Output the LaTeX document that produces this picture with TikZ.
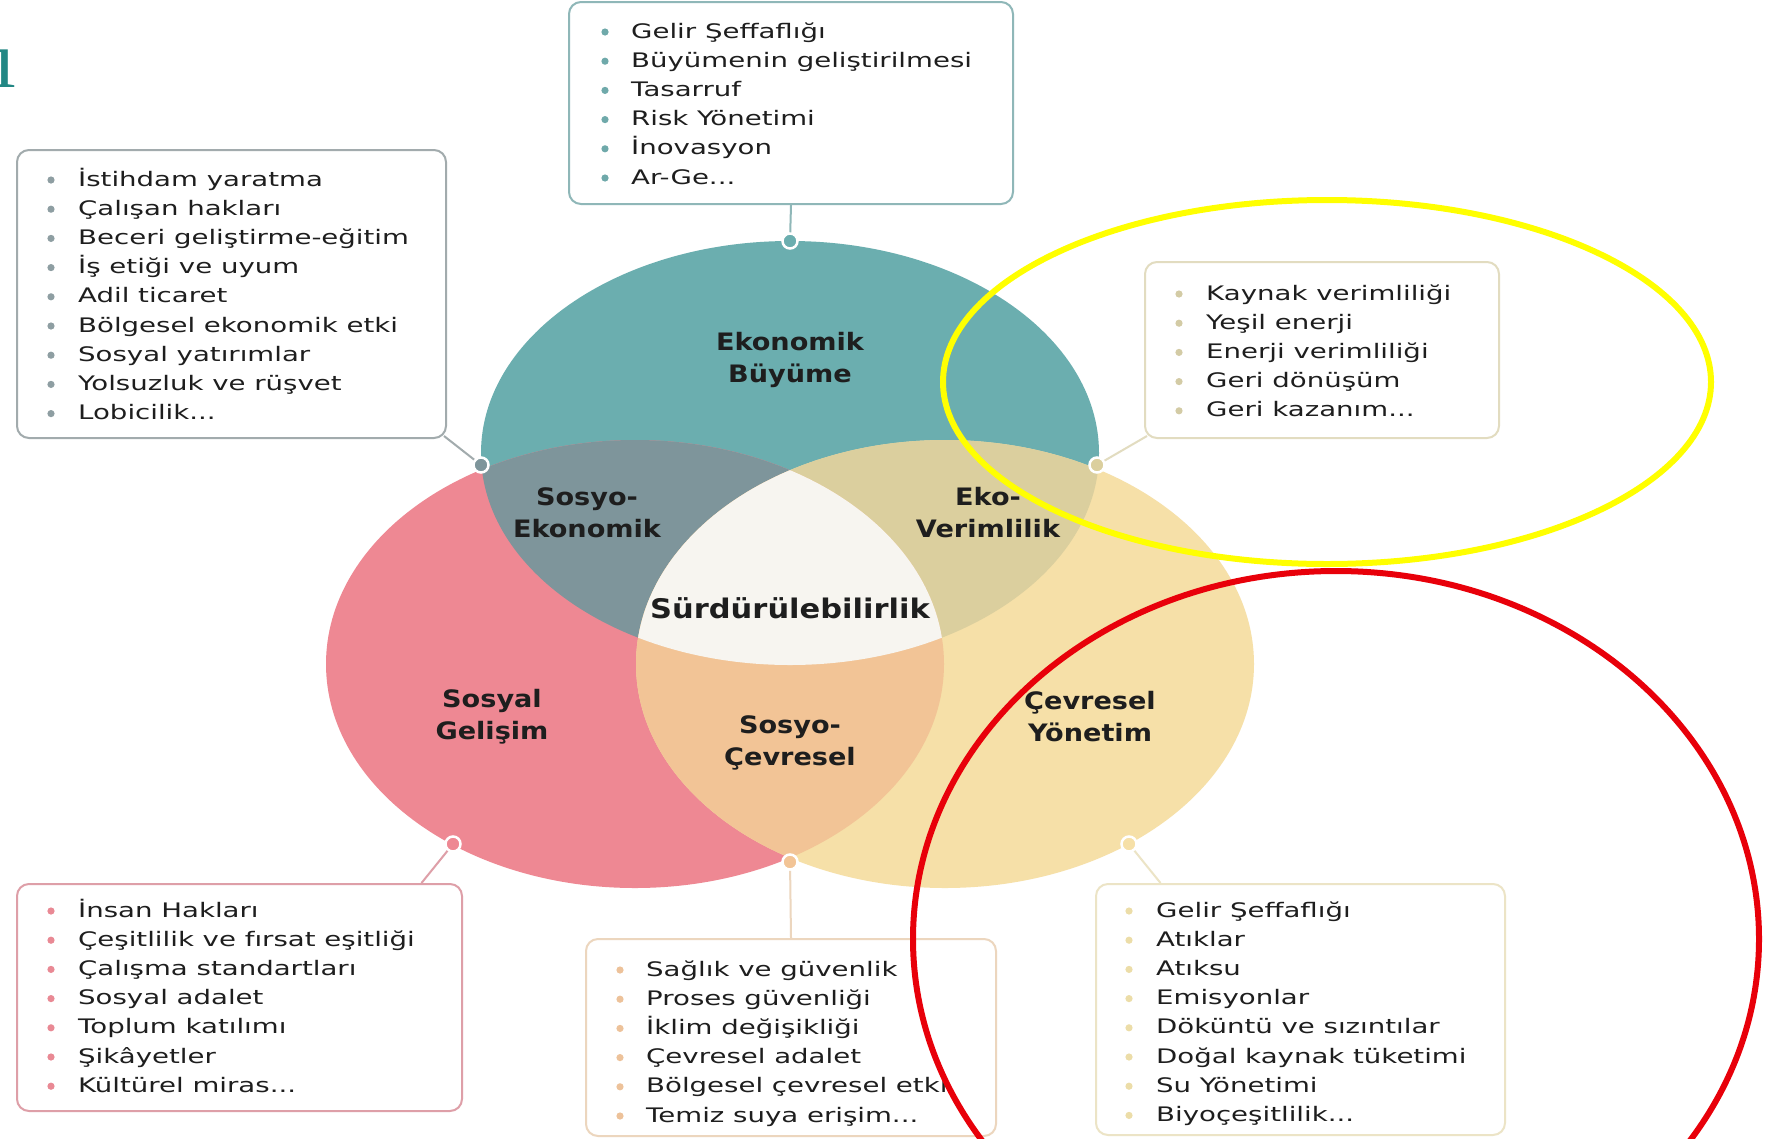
\documentclass[tikz,border=0pt]{standalone}
\usepackage{fontspec}
\setmainfont{DejaVu Sans}[FakeStretch=1.38]
\newfontfamily\labelfont{DejaVu Sans}[FakeStretch=1.13]
\newfontfamily\fragfont{Liberation Serif}

% region colours
\definecolor{ekoC}{HTML}{6BAEAF}
\definecolor{sosC}{HTML}{EE8893}
\definecolor{cevC}{HTML}{F6E0A8}
\definecolor{sosekC}{HTML}{7E959B}
\definecolor{ekverC}{HTML}{DBCF9E}
\definecolor{socevC}{HTML}{F2C496}
\definecolor{midC}{HTML}{F7F5F0}
% box borders and bullets
\definecolor{topB}{HTML}{8FB7B8}\definecolor{topD}{HTML}{6FA9AA}
\definecolor{ltB}{HTML}{A2ABAD}\definecolor{ltD}{HTML}{8E9EA2}
\definecolor{rtB}{HTML}{E2DCC0}\definecolor{rtD}{HTML}{D3CBA5}
\definecolor{blB}{HTML}{DE9FA8}\definecolor{blD}{HTML}{E98994}
\definecolor{bmB}{HTML}{ECD6BE}\definecolor{bmD}{HTML}{EDC29A}
\definecolor{brB}{HTML}{ECE4C6}\definecolor{brD}{HTML}{ECDDA8}
\definecolor{txt}{HTML}{1E1E1E}
\definecolor{fragC}{HTML}{228784}
\definecolor{markY}{HTML}{FFFF00}
\definecolor{markR}{HTML}{E8000A}

\newcommand\tridot{...}

\tikzset{
  listbox/.style={draw=#1, line width=2pt, rounded corners=12pt, fill=white, inner sep=0pt},
  itemtext/.style={anchor=base west, inner sep=0pt, text=txt, font=\fontsize{20}{24}\selectfont},
  conn/.style={draw=#1, line width=2pt},
  joint/.style={circle, fill=#1, draw=white, line width=2.5pt, minimum size=15pt, inner sep=0pt},
  areatext/.style={align=center, text=txt, inner sep=0pt, font=\labelfont\bfseries\fontsize{24}{32}\selectfont},
  marker/.style={draw=#1, line width=6pt}
}

% bullet list: name, bullet x, text x, first line y, bullet colour, items
\newcommand\itemlist[6]{%
  \foreach \t [count=\k] in {#6} {
    \pgfmathsetmacro\yy{#4+(\k-1)*29.2}
    \fill[#5] (#2,\yy+1) circle[radius=3.6];
    \node[itemtext] (#1-\k) at (#3,\yy+7) {\t};
  }%
}

\begin{document}
\begin{tikzpicture}[x=1pt,y=-1pt]
\useasboundingbox (0,0) rectangle (1774,1138);
\clip (0,0) rectangle (1774,1138);
\fill[white] (0,0) rectangle (1774,1138);

% clipped heading letter at the left edge
\node[anchor=base east, inner sep=0pt, text=fragC, font=\fragfont\fontsize{82}{82}\selectfont] (frag) at (16,87) {ı};

% the three areas
\def\ekoE{(790,453) ellipse [x radius=309, y radius=212]}
\def\sosE{(635,664) ellipse [x radius=309, y radius=224]}
\def\cevE{(945,664) ellipse [x radius=309, y radius=224]}
\fill[ekoC] \ekoE;
\fill[sosC] \sosE;
\fill[cevC] \cevE;
\begin{scope}\clip \ekoE; \fill[sosekC] \sosE; \end{scope}
\begin{scope}\clip \ekoE; \fill[ekverC] \cevE; \end{scope}
\begin{scope}\clip \sosE; \fill[socevC] \cevE; \end{scope}
\begin{scope}\clip \ekoE; \clip \sosE; \fill[midC] \cevE; \end{scope}

% area labels
\node[areatext] (lblEko) at (790,360) {Ekonomik\\Büyüme};
\node[areatext] (lblSosEk) at (587,513) {Sosyo-\\Ekonomik};
\node[areatext] (lblEkoVer) at (988,513) {Eko-\\Verimlilik};
\node[areatext, font=\labelfont\bfseries\fontsize{27}{32}\selectfont] (lblMid) at (790,608) {Sürdürülebilirlik};
\node[areatext] (lblSos) at (492,717) {Sosyal\\Gelişim};
\node[areatext] (lblSosCev) at (790,743) {Sosyo-\\Çevresel};
\node[areatext] (lblCev) at (1090,717) {Çevresel\\Yönetim};

% list boxes
\node[listbox=topB, minimum width=444pt, minimum height=202pt] (boxEko) at (791,103) {};
\node[listbox=ltB, minimum width=429pt, minimum height=288pt] (boxSosEk) at (231.5,294) {};
\node[listbox=rtB, minimum width=354pt, minimum height=176pt] (boxEkoVer) at (1322,350) {};
\node[listbox=blB, minimum width=445pt, minimum height=227pt] (boxSos) at (239.5,997.5) {};
\node[listbox=bmB, minimum width=410pt, minimum height=197pt] (boxSosCev) at (791,1037.5) {};
\node[listbox=brB, minimum width=409pt, minimum height=251pt] (boxCev) at (1300.5,1009.5) {};

% joints on the area borders
\node[joint=ekoC] (jEko) at (790,241) {};
\node[joint=sosekC] (jSosEk) at (481,465) {};
\node[joint=ekverC] (jEkoVer) at (1097,465) {};
\node[joint=sosC] (jSos) at (453,844) {};
\node[joint=socevC] (jSosCev) at (790,862) {};
\node[joint=cevC] (jCev) at (1129,844) {};

% connectors
\draw[conn=topB] (boxEko.south) -- (jEko);
\draw[conn=ltB] ([shift={(-3pt,3pt)}]boxSosEk.south east) -- (jSosEk);
\draw[conn=rtB] ([shift={(3pt,3pt)}]boxEkoVer.south west) -- (jEkoVer);
\draw[conn=blB] ([xshift=182pt]boxSos.north) -- (jSos);
\draw[conn=bmB] (boxSosCev.north) -- (jSosCev);
\draw[conn=brB] ([xshift=-140pt]boxCev.north) -- (jCev);

% list contents
\itemlist{eko}{605}{631}{31}{topD}{Gelir Şeffaflığı, Büyümenin geliştirilmesi, Tasarruf, Risk Yönetimi, İnovasyon, Ar-Ge\tridot}
\itemlist{sosek}{51}{78}{179}{ltD}{İstihdam yaratma, Çalışan hakları, Beceri geliştirme-eğitim, İş etiği ve uyum, Adil ticaret, Bölgesel ekonomik etki, Sosyal yatırımlar, Yolsuzluk ve rüşvet, Lobicilik\tridot}
\itemlist{ekover}{1179}{1206}{293}{rtD}{Kaynak verimliliği, Yeşil enerji, Enerji verimliliği, Geri dönüşüm, Geri kazanım\tridot}
\itemlist{sos}{51}{78}{910}{blD}{İnsan Hakları, Çeşitlilik ve fırsat eşitliği, Çalışma standartları, Sosyal adalet, Toplum katılımı, Şikâyetler, Kültürel miras\tridot}
\itemlist{socev}{620}{646}{969}{bmD}{Sağlık ve güvenlik, Proses güvenliği, İklim değişikliği, Çevresel adalet, Bölgesel çevresel etki, Temiz suya erişim\tridot}
\itemlist{cev}{1129}{1156}{910}{brD}{Gelir Şeffaflığı, Atıklar, Atıksu, Emisyonlar, Döküntü ve sızıntılar, Doğal kaynak tüketimi, Su Yönetimi, Biyoçeşitlilik\tridot}

% hand-drawn highlight rings
\draw[marker=markY] (1327,382) ellipse [x radius=384, y radius=182];
\draw[marker=markR] (1336,939) ellipse [x radius=423, y radius=368];
\end{tikzpicture}
\end{document}
